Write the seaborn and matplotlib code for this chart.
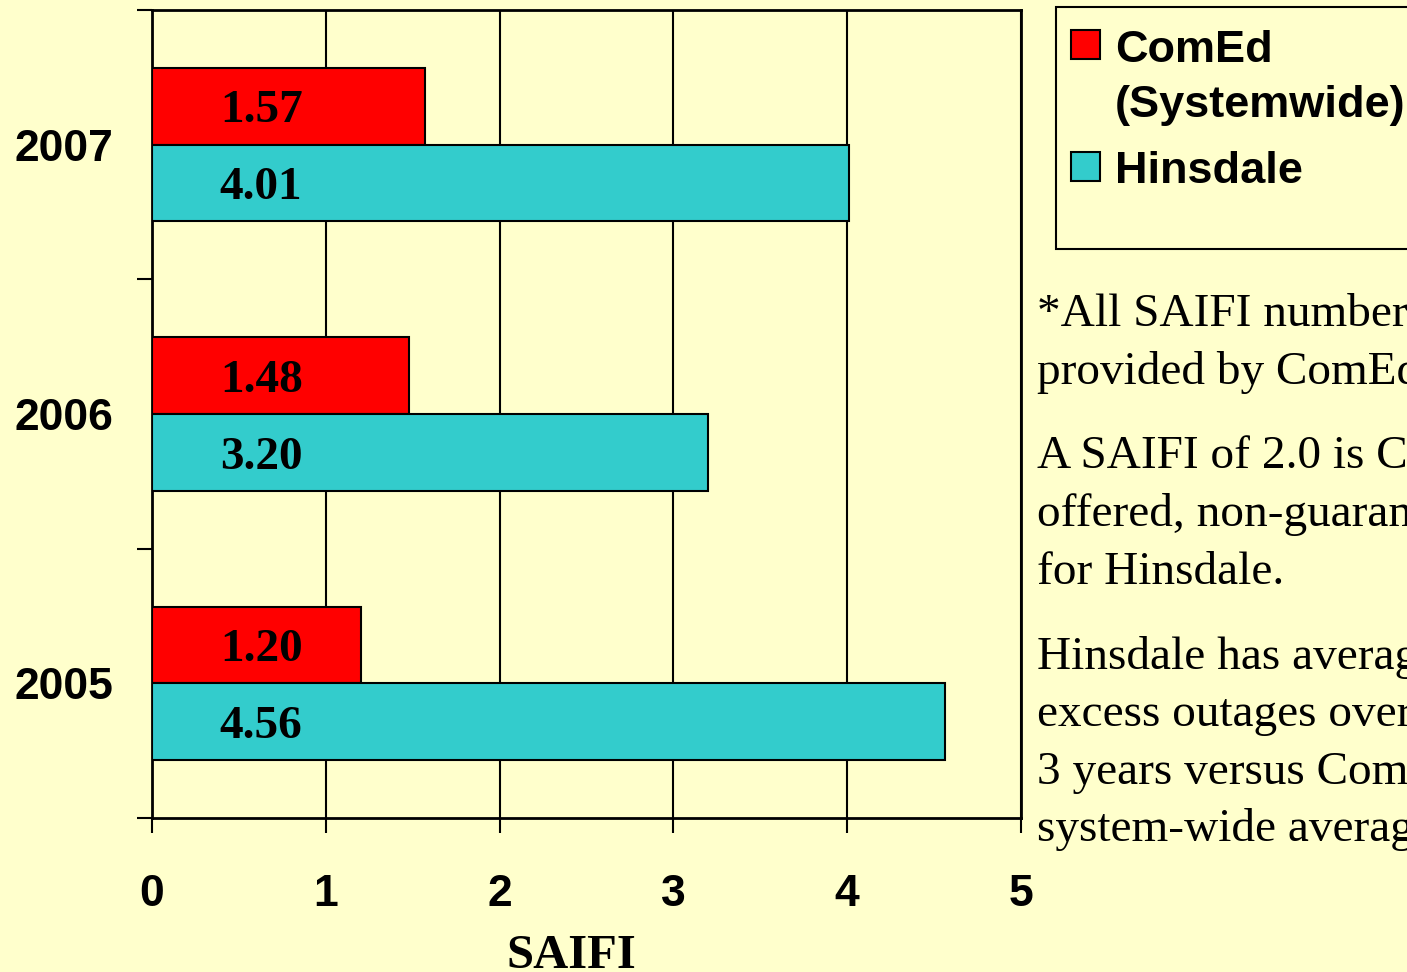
import matplotlib
matplotlib.use('Agg')
import matplotlib.pyplot as plt
import seaborn as sns
import pandas as pd
from matplotlib.patches import Rectangle
from matplotlib.ticker import FixedLocator

# ---- data ----
years = ['2007', '2006', '2005']
comed = [1.57, 1.48, 1.20]
hinsdale = [4.01, 3.20, 4.56]
series = ['ComEd\n(Systemwide)', 'Hinsdale']
colors = ['#FF0000', '#33CCCC']
x_ticks = [0, 1, 2, 3, 4, 5]
x_label = 'SAIFI'
notes = [
    ["*All SAIFI numbers", "provided by ComEd"],
    ["A SAIFI of 2.0 is ComEd's", "offered, non-guaranteed", "for Hinsdale."],
    ["Hinsdale has averaged", "excess outages over", "3 years versus ComEd's", "system-wide average"],
]

BG = '#FFFFCC'
SANS = ['Liberation Sans', 'DejaVu Sans']
SERIF = ['Liberation Serif', 'DejaVu Serif']

df = pd.DataFrame({
    'year': years * 2,
    'series': [series[0]] * len(years) + [series[1]] * len(years),
    'value': comed + hinsdale,
})

sns.set_style('white')
plt.rcParams['font.family'] = SANS
for k in ['text.color', 'xtick.color', 'ytick.color', 'axes.labelcolor', 'axes.edgecolor']:
    plt.rcParams[k] = 'black'

W, H = 1407, 972
fig = plt.figure(figsize=(W / 100, H / 100), dpi=100, facecolor=BG)
ax = fig.add_axes([152 / W, 1 - 818 / H, 869 / W, 808 / H])
ax.set_facecolor(BG)

sns.barplot(data=df, x='value', y='year', hue='series', order=years,
            hue_order=series, palette=colors, orient='h', width=0.57,
            edgecolor='black', linewidth=1.5, saturation=1, legend=False,
            ax=ax, zorder=3)

ax.set_xlim(0, 5)
ax.set_ylim(2.5, -0.5)
ax.set_axisbelow(True)
ax.xaxis.grid(True, color='black', linewidth=1.5)
ax.yaxis.grid(False)

ax.set_xticks(x_ticks)
ax.set_xticklabels([str(t) for t in x_ticks], fontsize=32, fontweight='bold', family=SANS)
ax.tick_params(axis='x', which='major', length=10.8, width=1.5, direction='out',
               pad=29.5, colors='black', bottom=True)
ax.set_yticks(range(len(years)))
ax.set_yticklabels(years, fontsize=32, fontweight='bold', family=SANS)
ax.tick_params(axis='y', which='major', length=0, pad=28, left=True, labelcolor='black')
ax.yaxis.set_minor_locator(FixedLocator([-0.5, 0.5, 1.5, 2.5]))
ax.tick_params(axis='y', which='minor', length=10.8, width=1.5, direction='out',
               color='black', left=True)

for s in ax.spines.values():
    s.set_visible(True)
    s.set_color('black')
    s.set_linewidth(2)

ax.set_ylabel('')
ax.set_xlabel(x_label, fontsize=35, fontweight='bold', family=SERIF, color='black')
ax.xaxis.set_label_coords(0.483, -0.143)

# value labels (digits vertically centred in each bar)
for cont in ax.containers:
    for p in cont:
        yc = p.get_y() + p.get_height() / 2
        ax.text(0.39, yc + 0.06, f'{p.get_width():.2f}', ha='left', va='baseline',
                fontsize=34, fontweight='bold', family=SERIF, color='black', zorder=5)

# legend (manual, box runs off the figure)
fig.patches.append(Rectangle((1056 / W, 1 - 249 / H), 400 / W, 242 / H,
                             transform=fig.transFigure, facecolor=BG,
                             edgecolor='black', linewidth=1.5, zorder=1))
sw_tops = [30, 152]
txt_base = [[62, 117], [183]]
for i, lab in enumerate(series):
    fig.patches.append(Rectangle((1071 / W, 1 - (sw_tops[i] + 29) / H), 29 / W, 29 / H,
                                 transform=fig.transFigure, facecolor=colors[i],
                                 edgecolor='black', linewidth=1.5, zorder=2))
    for line, b in zip(lab.split('\n'), txt_base[i]):
        fig.text(1115 / W, 1 - b / H, line, fontsize=32.5, fontweight='bold',
                 family=SANS, va='baseline', ha='left', zorder=3, color='black')

# notes on the right
base = 326
for para in notes:
    for line in para:
        fig.text(1037 / W, 1 - base / H, line, fontsize=34, family=SERIF,
                 va='baseline', ha='left', color='black')
        base += 57.5
    base += 27.5

fig.savefig('out.png', dpi=100, facecolor=BG)
